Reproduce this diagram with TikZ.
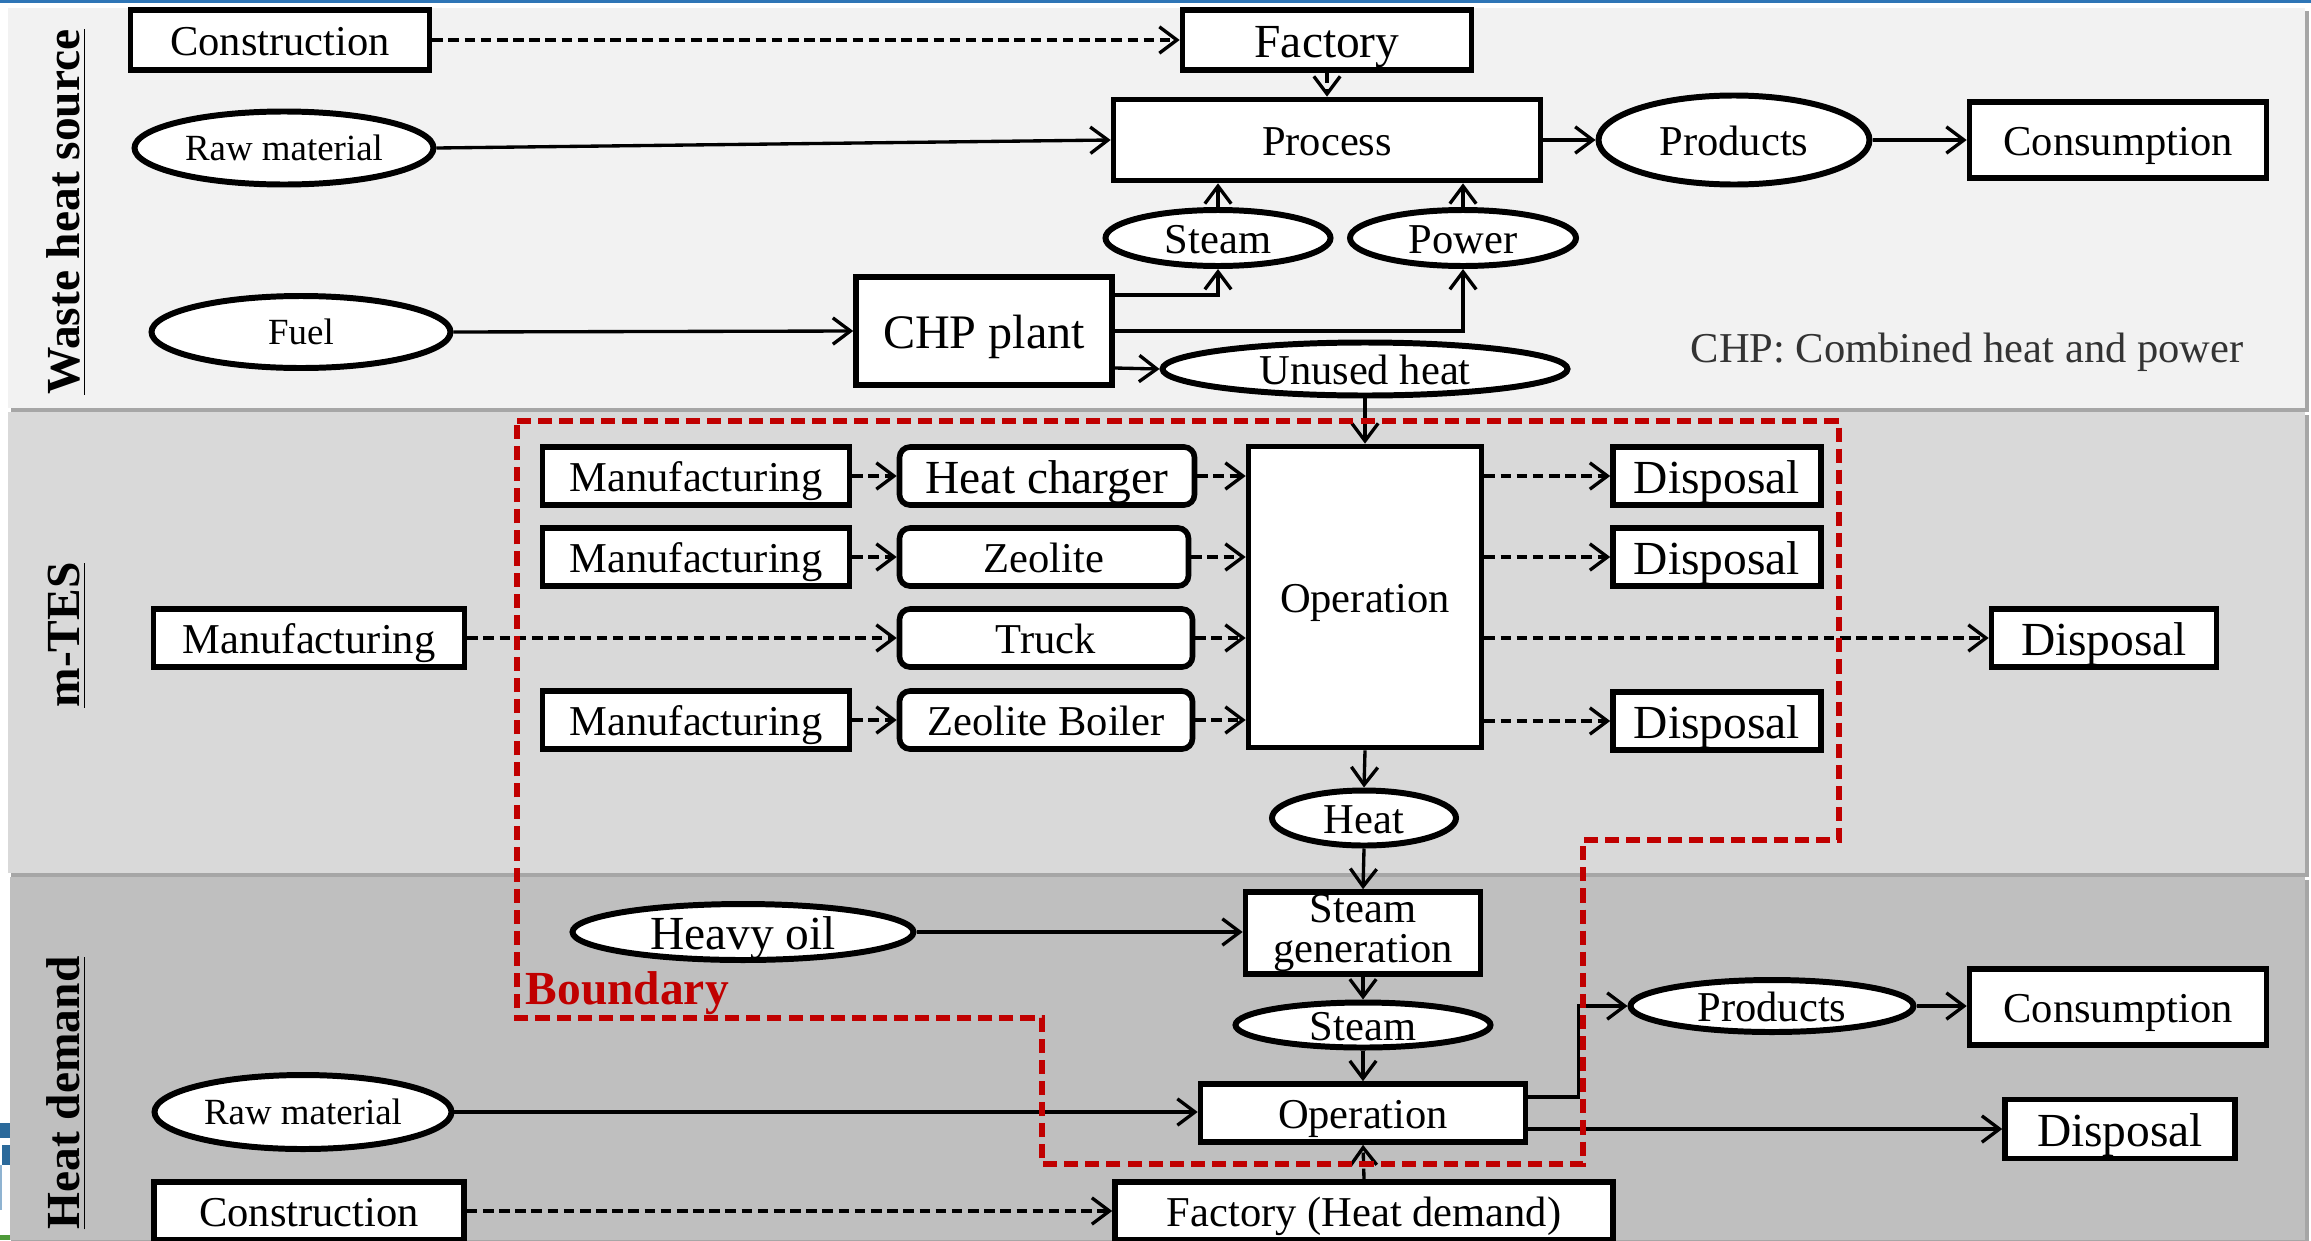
\documentclass[tikz,border=0pt]{standalone}
\usepackage{fontspec}
\setmainfont{Liberation Serif}
\usetikzlibrary{shapes.geometric, arrows.meta, calc}

\definecolor{bandtop}{HTML}{F2F2F2}
\definecolor{bandmid}{HTML}{D9D9D9}
\definecolor{bandlow}{HTML}{BFBFBF}
\definecolor{bandshade}{HTML}{A6A6A6}
\definecolor{bordred}{HTML}{C00000}
\definecolor{frameblue}{HTML}{2E75B6}
\definecolor{logoblue}{HTML}{2B6A9B}
\definecolor{logopale}{HTML}{8FB3D1}
\definecolor{logogreen}{HTML}{4E9A3A}

\newcommand\szA{\fontsize{12.1pt}{13pt}\selectfont}
\newcommand\szB{\fontsize{13.5pt}{15pt}\selectfont}
\newcommand\szC{\fontsize{10.5pt}{12pt}\selectfont}

\begin{document}
\begin{tikzpicture}[x=0.1mm, y=-0.1mm,
  fA/.style={font=\szA, text height=8.6pt, text depth=0pt},
  fB/.style={font=\szB, text height=9.8pt, text depth=0pt},
  fC/.style={font=\szC, text height=7.2pt, text depth=0pt},
  box/.style={draw, line width=1.6pt, fill=white, inner sep=0pt, fA},
  rbox/.style={box, rounded corners=3pt},
  oval/.style={ellipse, draw, line width=1.7pt, fill=white, inner sep=0pt, fA},
  conn/.style={line width=0.95pt, -{Straight Barb[length=5pt,width=7.5pt]}},
  dconn/.style={conn, dash pattern=on 3pt off 1.6pt},
  lane/.style={rotate=90, anchor=base, font=\szB\bfseries},
  bound/.style={draw=bordred, line width=1.7pt, dash pattern=on 4pt off 2pt}
]
\useasboundingbox (0,0) rectangle (2311,1240);

% background bands
\fill[white] (0,0) rectangle (2311,1240);
\fill[frameblue] (0,0) rectangle (2311,3);
\fill[bandshade] (11,11) rectangle (2309,412);
\fill[bandtop] (8,8) rectangle (2305,408);
\fill[bandshade] (11,415) rectangle (2309,877);
\fill[bandmid] (8,412) rectangle (2305,873);
\fill[bandshade] (11,880) rectangle (2309,1243);
\fill[bandlow] (10,877) rectangle (2305,1240);

% edge of the slide logo at the lower left
\fill[logoblue] (0,1123) rectangle (10,1138);
\fill[logoblue] (2,1145) rectangle (10,1165);
\fill[logopale] (0,1165) rectangle (2,1210);
\fill[logogreen] (0,1235) rectangle (10,1240);

% lane titles
\node[lane] (laneA) at (79,212) {\underline{Waste heat source}};
\node[lane] (laneB) at (79,635) {\underline{m-TES}};
\node[lane] (laneC) at (79,1093) {\underline{Heat demand}};

% ---------- waste heat source ----------
\node[box, minimum width=29.9mm, minimum height=6.0mm] (con1) at (280,40) {Construction};
\node[box, minimum width=28.9mm, minimum height=6.0mm, fB] (fac1) at (1327,40) {Factory};
\node[box, minimum width=42.7mm, minimum height=8.1mm] (proc) at (1327,140) {Process};
\node[oval, minimum width=29.9mm, minimum height=7.3mm, fC] (raw1) at (284,148) {Raw material};
\node[oval, minimum width=29.9mm, minimum height=7.2mm, fC] (fuel) at (301,332) {Fuel};
\node[box, minimum width=25.6mm, minimum height=10.8mm, fB, font=\fontsize{13.7pt}{15pt}\selectfont] (chp) at (984,331) {CHP plant};
\node[oval, minimum width=22.5mm, minimum height=5.6mm] (stm1) at (1218,238) {Steam};
\node[oval, minimum width=22.6mm, minimum height=5.6mm] (pow) at (1463,238) {Power};
\node[oval, minimum width=40.5mm, minimum height=5.3mm] (unu) at (1365,369) {Unused heat};
\node[oval, minimum width=27.1mm, minimum height=8.9mm] (prd1) at (1734,140) {Products};
\node[box, minimum width=29.7mm, minimum height=7.6mm] (cns1) at (2118,140) {Consumption};
\node[fA, text=black!80, inner sep=0pt] (note) at (1967,347) {CHP: Combined heat and power};

\draw[dconn] (con1.east) -- (fac1.west);
\draw[dconn] (fac1.south) -- (proc.north);
\draw[conn] (raw1.east) -- (proc.west);
\draw[conn] (proc.east) -- (prd1.west);
\draw[conn] (prd1.east) -- (cns1.west);
\draw[conn] (fuel.east) -- (chp.west);
\draw[conn] (stm1.north) -- (stm1.north |- proc.south);
\draw[conn] (pow.north) -- (pow.north |- proc.south);
\draw[conn] ([yshift=3.6mm]chp.east) -| (stm1.south);
\draw[conn] (chp.east) -| (pow.south);
\draw[conn] ([yshift=-3.7mm]chp.east) -- (unu.west);

% ---------- m-TES ----------
\node[box, minimum width=31.1mm, minimum height=5.8mm] (m0) at (309,638) {Manufacturing};
\node[box, minimum width=30.7mm, minimum height=5.8mm] (m1a) at (696,476) {Manufacturing};
\node[box, minimum width=30.7mm, minimum height=5.8mm] (m1b) at (696,557) {Manufacturing};
\node[box, minimum width=30.7mm, minimum height=5.8mm] (m1d) at (696,720) {Manufacturing};
\node[rbox, minimum width=29.5mm, minimum height=5.8mm, fB] (hc) at (1047,476) {Heat charger};
\node[rbox, minimum width=28.9mm, minimum height=5.8mm] (zeo) at (1044,557) {Zeolite};
\node[rbox, minimum width=29.3mm, minimum height=5.8mm] (trk) at (1046,638) {Truck};
\node[rbox, minimum width=29.3mm, minimum height=5.8mm] (zb) at (1046,720) {Zeolite Boiler};
\node[box, minimum width=23.3mm, minimum height=30.1mm] (op1) at (1365,597) {Operation};
\node[box, minimum width=20.8mm, minimum height=5.8mm, fB] (d1) at (1717,476) {Disposal};
\node[box, minimum width=20.8mm, minimum height=5.8mm, fB] (d2) at (1717,557) {Disposal};
\node[box, minimum width=20.8mm, minimum height=5.8mm, fB] (d4) at (1717,721) {Disposal};
\node[box, minimum width=22.5mm, minimum height=5.8mm, fB] (d3) at (2104,638) {Disposal};
\node[oval, minimum width=18.4mm, minimum height=5.5mm] (heat) at (1364,818) {Heat};

\draw[conn] (unu.south) -- (op1.north);
\draw[dconn] (m1a.east) -- (hc.west);
\draw[dconn] (m1b.east) -- (zeo.west);
\draw[dconn] (m1d.east) -- (zb.west);
\draw[dconn] (m0.east) -- (trk.west);
\draw[dconn] (hc.east) -- (hc.east -| op1.west);
\draw[dconn] (zeo.east) -- (zeo.east -| op1.west);
\draw[dconn] (trk.east) -- (trk.east -| op1.west);
\draw[dconn] (zb.east) -- (zb.east -| op1.west);
\draw[dconn] (d1.west -| op1.east) -- (d1.west);
\draw[dconn] (d2.west -| op1.east) -- (d2.west);
\draw[dconn] (d4.west -| op1.east) -- (d4.west);
\draw[dconn] (d3.west -| op1.east) -- (d3.west);
\draw[conn] (op1.south) -- (heat.north);

% ---------- heat demand ----------
\node[box, minimum width=23.5mm, minimum height=8.2mm, align=center, text height={}, text depth={},
      font=\fontsize{12.1pt}{11.4pt}\selectfont] (sg) at (1363,933) {Steam\\generation};
\node[oval, minimum width=34.1mm, minimum height=5.6mm, fB] (hoil) at (743,932) {Heavy oil};
\node[oval, minimum width=25.5mm, minimum height=4.5mm] (stm2) at (1363,1025) {Steam};
\node[box, minimum width=32.5mm, minimum height=5.8mm] (op2) at (1363,1113) {Operation};
\node[oval, minimum width=29.7mm, minimum height=7.4mm, fC] (raw2) at (303,1112) {Raw material};
\node[box, minimum width=31.0mm, minimum height=5.8mm] (con2) at (309,1211) {Construction};
\node[box, minimum width=49.8mm, minimum height=5.8mm] (fac2) at (1364,1211) {Factory (Heat demand)};
\node[oval, minimum width=28.3mm, minimum height=5.2mm] (prd2) at (1772,1006) {Products};
\node[box, minimum width=29.7mm, minimum height=7.6mm] (cns2) at (2118,1007) {Consumption};
\node[box, minimum width=23.0mm, minimum height=5.9mm, fB] (d5) at (2120,1129) {Disposal};

\draw[conn] (heat.south) -- (sg.north);
\draw[conn] (hoil.east) -- (hoil.east -| sg.west);
\draw[conn] (sg.south) -- (stm2.north);
\draw[conn] (stm2.south) -- (op2.north);
\draw[conn] (raw2.east) -- (raw2.east -| op2.west);
\draw[dconn] (con2.east) -- (con2.east -| fac2.west);
\draw[dconn] (fac2.north) -- (op2.south);
\draw[conn] ([yshift=1.6mm]op2.east) -- ++(5mm,0) |- (prd2.west);
\draw[conn] (prd2.east) -- (prd2.east -| cns2.west);
\draw[conn] (d5.west -| op2.east) -- (d5.west);

% system boundary
\draw[bound] (517,421) -- (1839,421) -- (1839,840) -- (1583,840) -- (1583,1164)
  -- (1042,1164) -- (1042,1018) -- (517,1018) -- cycle;
\node[anchor=base west, inner sep=0pt, text=bordred, font=\szB\bfseries] (blabel) at (525,1004) {Boundary};

\end{tikzpicture}
\end{document}
